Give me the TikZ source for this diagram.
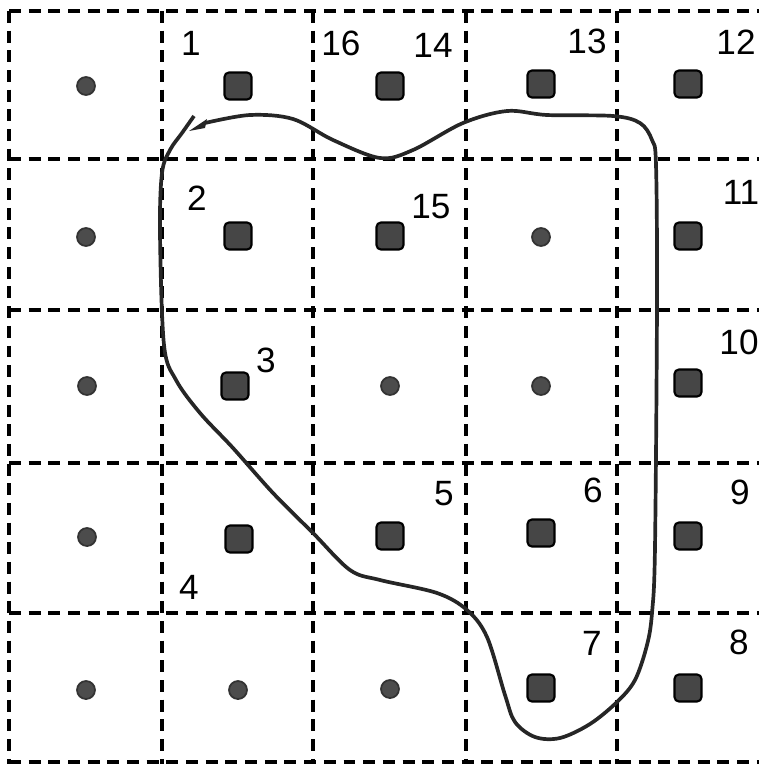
\documentclass[tikz,border=0pt]{standalone}
\usepackage{fontspec}
\setmainfont{Liberation Sans}
\usepackage{tikz}

\tikzset{
  gridline/.style={line width=2.1pt, dash pattern=on 6.8pt off 4.4pt},
  sq/.style={draw=black, line width=1.2pt, fill=gray!55!black, rounded corners=2.5pt,
    minimum size=0.54cm, inner sep=0pt},
  dot/.style={circle, draw=black!80, line width=1pt, fill=gray!60!black,
    minimum size=0.36cm, inner sep=0pt},
  num/.style={font=\fontsize{20}{24}\selectfont, inner sep=0pt},
  outline/.style={line width=2.1pt, black!85, line join=round}
}

\begin{document}
\begin{tikzpicture}[x=0.02cm, y=-0.02cm]
    \useasboundingbox (0,0) rectangle (759,764);

    % Grid
    \foreach \gx in {9,162,313,466,617}
        \draw[gridline] (\gx,11) -- (\gx,766);
    \foreach \gy in {11,159,310,463,613,762}
        \draw[gridline] (9,\gy) -- (762,\gy);

    % Row 1
    \node[dot] (c11) at (86,86) {};
    \node[sq]  (c12) at (238,86) {};
    \node[sq]  (c13) at (390,86) {};
    \node[sq]  (c14) at (541,84) {};
    \node[sq]  (c15) at (688,84) {};
    % Row 2
    \node[dot] (c21) at (86,237) {};
    \node[sq]  (c22) at (238,236) {};
    \node[sq]  (c23) at (390,236) {};
    \node[dot] (c24) at (541,237) {};
    \node[sq]  (c25) at (688,236) {};
    % Row 3
    \node[dot] (c31) at (87,386) {};
    \node[sq]  (c32) at (235,386) {};
    \node[dot] (c33) at (390,386) {};
    \node[dot] (c34) at (541,386) {};
    \node[sq]  (c35) at (688,383) {};
    % Row 4
    \node[dot] (c41) at (87,537) {};
    \node[sq]  (c42) at (239,539) {};
    \node[sq]  (c43) at (390,536) {};
    \node[sq]  (c44) at (541,533) {};
    \node[sq]  (c45) at (688,536) {};
    % Row 5
    \node[dot] (c51) at (86,690) {};
    \node[dot] (c52) at (238,690) {};
    \node[dot] (c53) at (390,689) {};
    \node[sq]  (c54) at (541,688) {};
    \node[sq]  (c55) at (688,688) {};

    % Numbers
    \node[num] (n1)  at (191,43) {1};
    \node[num] (n16) at (341,43) {16};
    \node[num] (n14) at (433,45) {14};
    \node[num] (n13) at (587,41) {13};
    \node[num] (n12) at (736,42) {12};
    \node[num] (n2)  at (197,198) {2};
    \node[num] (n15) at (431,207) {15};
    \node[num] (n11) at (741,192) {11};
    \node[num] (n3)  at (266,360) {3};
    \node[num] (n10) at (739,342) {10};
    \node[num] (n5)  at (444,494) {5};
    \node[num] (n6)  at (593,490) {6};
    \node[num] (n9)  at (740,492) {9};
    \node[num] (n4)  at (189,587) {4};
    \node[num] (n7)  at (592,643) {7};
    \node[num] (n8)  at (739,642) {8};

    % Hand-drawn boundary
    \draw[outline] plot[smooth, tension=0.55] coordinates {
        (205,123) (250,115) (293,119) (333,140) (380,158) (413,150)
        (463,123) (507,111) (547,115) (613,116) (640,123) (652,140)
        (656,165) (657,300) (655,547) (652,613) (647,645) (635,680)
        (617,702) (590,724) (560,738) (535,737) (515,722) (505,695)
        (487,637) (467,610) (437,593) (380,580) (350,570) (313,533)
        (273,493) (233,448) (200,413) (176,380) (164,345) (160,233)
        (162,173) (170,150) (182,133) (194,116)};
    \fill[black!85] (189,131) -- (207,119) -- (205,128) -- cycle;
\end{tikzpicture}
\end{document}
